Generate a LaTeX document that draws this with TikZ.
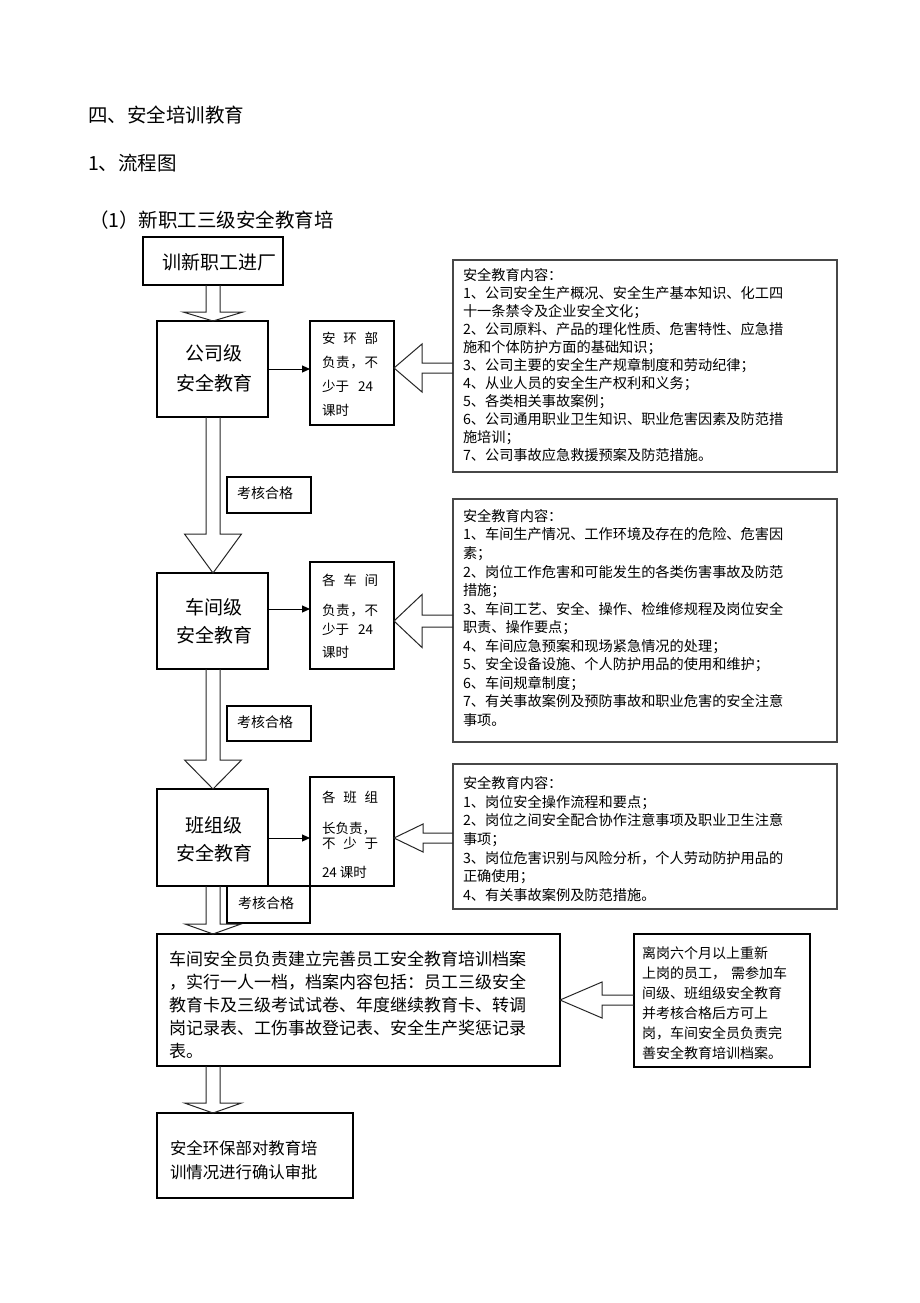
\documentclass[tikz,border=0pt]{standalone}
\usepackage{fontspec}
\setmainfont{Noto Sans CJK SC}
\usetikzlibrary{arrows.meta,calc}
% single text line: #1 options, #2 font size, #3 name, #4 x, #5 y centre, #6 text
\newcommand\tl[6]{\node[txt,anchor=base west,#1,font=\fontsize{#2}{#2}\selectfont] (#3) at (#4,{#5+0.38*#2}) {#6};}
% several lines: #1 font size, #2 name, #3 x, #4 first y centre, #5 step, #6 list
\newcommand\lines[6]{\foreach \t [count=\i from 0] in {#6} {\node[txt,anchor=base west,font=\fontsize{#1}{#1}\selectfont] (#2-\i) at (#3,{#4+\i*#5+0.38*#1}) {\t};}}
% down block arrow: #1 from node, #2 to node, #3 head length, #4 shaft half, #5 head half
\newcommand\downarr[5]{\draw[blk] let \p1=(#1.south), \p2=(#2.north) in
  (213pt-#4,\y1) -- (213pt-#4,\y2+#3) -- (213pt-#5,\y2+#3) -- (213pt,\y2) -- (213pt+#5,\y2+#3) -- (213pt+#4,\y2+#3) -- (213pt+#4,\y1);}
% left block arrow: #1 tail node, #2 tip node, #3 y, #4 shaft half, #5 head half, #6 head length
\newcommand\leftarr[6]{\draw[blk] let \p1=(#1.west), \p2=(#2.east), \p3=(0,#3) in
  (\x1,\y3+#4) -- (\x2+#6,\y3+#4) -- (\x2+#6,\y3+#5) -- (\x2,\y3) -- (\x2+#6,\y3-#5) -- (\x2+#6,\y3-#4) -- (\x1,\y3-#4);}
\begin{document}
\begin{tikzpicture}[x=1pt,y=-1pt,
  box/.style={draw=black,line width=1.1pt,inner sep=0pt,outer sep=0pt,anchor=north west},
  cbox/.style={box,draw=black!72},
  txt/.style={inner sep=0pt,outer sep=0pt},
  blk/.style={draw=black!85,line width=1pt,line join=miter},
  sarrow/.style={draw=black,line width=1pt,-{Triangle[length=8pt,width=7pt]}}]
\fill[white] (0,0) rectangle (920,1303);
\useasboundingbox (0,0) rectangle (920,1303);

% titles
\tl{}{19.5}{t1}{88}{115}{四、安全培训教育}
\tl{}{19.5}{t2}{88}{163}{1、流程图}
\tl{}{19.5}{t3}{89}{220}{（1）新职工三级安全教育培}

% boxes
\node[box,minimum width=140pt,minimum height=48pt] (b0) at (143,237) {};
\node[box,minimum width=111pt,minimum height=96pt] (g1) at (157,321) {};
\node[box,minimum width=84pt,minimum height=104pt] (s1) at (310,321) {};
\node[cbox,minimum width=384pt,minimum height=212pt] (c1) at (453,260) {};
\node[box,minimum width=84pt,minimum height=36pt] (k1) at (227,477) {};
\node[box,minimum width=111pt,minimum height=96pt] (g2) at (157,573) {};
\node[box,minimum width=84pt,minimum height=107pt] (s2) at (310,562) {};
\node[cbox,minimum width=384pt,minimum height=243pt] (c2) at (453,499) {};
\node[box,minimum width=84pt,minimum height=35pt] (k2) at (227,706) {};
\node[box,minimum width=111pt,minimum height=97pt] (g3) at (157,789) {};
\node[box,minimum width=84pt,minimum height=109pt] (s3) at (310,777) {};
\node[cbox,minimum width=384pt,minimum height=145pt] (c3) at (453,764) {};
\node[box,minimum width=83pt,minimum height=37pt] (k3) at (227,886) {};
\node[box,minimum width=403pt,minimum height=132pt] (a1) at (157,934) {};
\draw[line width=2.4pt] (a1.north west) -- (a1.north east);
\node[box,minimum width=176pt,minimum height=133pt] (r1) at (634,934) {};
\node[box,minimum width=196pt,minimum height=85pt] (f1) at (157,1113) {};

% down block arrows
\downarr{b0}{g1}{9pt}{7pt}{30pt}
\downarr{g1}{g2}{39pt}{7pt}{28.5pt}
\downarr{g2}{g3}{29pt}{7pt}{28.5pt}
\downarr{g3}{a1}{10pt}{7pt}{28pt}
\downarr{a1}{f1}{10pt}{7pt}{28.5pt}

% left block arrows
\leftarr{c1}{s1}{368}{5pt}{24pt}{28pt}
\leftarr{c2}{s2}{621}{6pt}{26.5pt}{28pt}
\leftarr{c3}{s3}{838}{5pt}{14pt}{29pt}
\leftarr{r1}{a1}{1000}{5pt}{18pt}{42pt}

% small arrows
\draw[sarrow] (g1.east |- 0,369) -- (s1.west |- 0,369);
\draw[sarrow] (g2.east |- 0,609) -- (s2.west |- 0,609);
\draw[sarrow] (g3.east |- 0,838) -- (s3.west |- 0,838);

% main box texts
\tl{}{19}{b0t}{162}{262}{训新职工进厂}
\tl{anchor=base}{19}{g1a}{214}{353}{公司级}
\tl{anchor=base}{19}{g1b}{214}{383}{安全教育}
\tl{anchor=base}{19}{g2a}{214}{607}{车间级}
\tl{anchor=base}{19}{g2b}{214}{635}{安全教育}
\tl{anchor=base}{19}{g3a}{214}{825}{班组级}
\tl{anchor=base}{19}{g3b}{214}{853}{安全教育}

% pass boxes
\tl{}{14}{k1t}{237}{493}{考核合格}
\tl{}{14}{k2t}{237}{722}{考核合格}
\tl{}{14}{k3t}{238}{903}{考核合格}

% small boxes
\tl{}{13.5}{s1a}{322}{338}{\makebox[56pt][s]{安\hfill 环\hfill 部}}
\tl{}{13.5}{s1b}{322}{362}{\makebox[56pt][s]{负\hfill 责\hfill ，\hfill 不}}
\tl{}{13.5}{s1c}{322}{386}{\makebox[51pt][s]{少于\hfill 24}}
\tl{}{13.5}{s1d}{322}{410}{课时}
\tl{}{13.5}{s2a}{322}{580}{\makebox[56pt][s]{各\hfill 车\hfill 间}}
\tl{}{13.5}{s2b}{322}{610}{\makebox[56pt][s]{负\hfill 责\hfill ，\hfill 不}}
\tl{}{13.5}{s2c}{322}{629}{\makebox[51pt][s]{少于\hfill 24}}
\tl{}{13.5}{s2d}{322}{652}{课时}
\tl{}{13.5}{s3a}{322}{797}{\makebox[56pt][s]{各\hfill 班\hfill 组}}
\tl{}{13.5}{s3b}{322}{828}{长负责，}
\tl{}{13.5}{s3c}{322}{843}{\makebox[56pt][s]{不\hfill 少\hfill 于}}
\tl{}{13.5}{s3d}{322}{872}{24\hspace{3pt}课时}

% content boxes
\lines{14.2}{c1t}{463}{275}{18}{安全教育内容：,
1、公司安全生产概况、安全生产基本知识、化工四,
十一条禁令及企业安全文化；,
2、公司原料、产品的理化性质、危害特性、应急措,
施和个体防护方面的基础知识；,
3、公司主要的安全生产规章制度和劳动纪律；,
4、从业人员的安全生产权利和义务；,
5、各类相关事故案例；,
6、公司通用职业卫生知识、职业危害因素及防范措,
施培训；,
7、公司事故应急救援预案及防范措施。}
\lines{14.2}{c2t}{463}{516}{18.55}{安全教育内容：,
1、车间生产情况、工作环境及存在的危险、危害因,
素；,
2、岗位工作危害和可能发生的各类伤害事故及防范,
措施；,
3、车间工艺、安全、操作、检维修规程及岗位安全,
职责、操作要点；,
4、车间应急预案和现场紧急情况的处理；,
5、安全设备设施、个人防护用品的使用和维护；,
6、车间规章制度；,
7、有关事故案例及预防事故和职业危害的安全注意,
事项。}
\lines{14.2}{c3t}{463}{783}{18.7}{安全教育内容：,
1、岗位安全操作流程和要点；,
2、岗位之间安全配合协作注意事项及职业卫生注意,
事项；,
3、岗位危害识别与风险分析，个人劳动防护用品的,
正确使用；,
4、有关事故案例及防范措施。}

% archive box
\lines{17}{a1t}{169}{959}{23}{车间安全员负责建立完善员工安全教育培训档案,
，实行一人一档，档案内容包括：员工三级安全,
教育卡及三级考试试卷、年度继续教育卡、转调,
岗记录表、工伤事故登记表、安全生产奖惩记录,
表。}

% re-entry box
\lines{14}{r1t}{642}{953}{20}{离岗六个月以上重新,
上岗的员工，\hspace{5pt}需参加车,
间级、班组级安全教育,
并考核合格后方可上,
岗，车间安全员负责完,
善安全教育培训档案。}

% final box
\lines{16.4}{f1t}{170}{1148}{24}{安全环保部对教育培,
训情况进行确认审批}
\end{tikzpicture}
\end{document}
